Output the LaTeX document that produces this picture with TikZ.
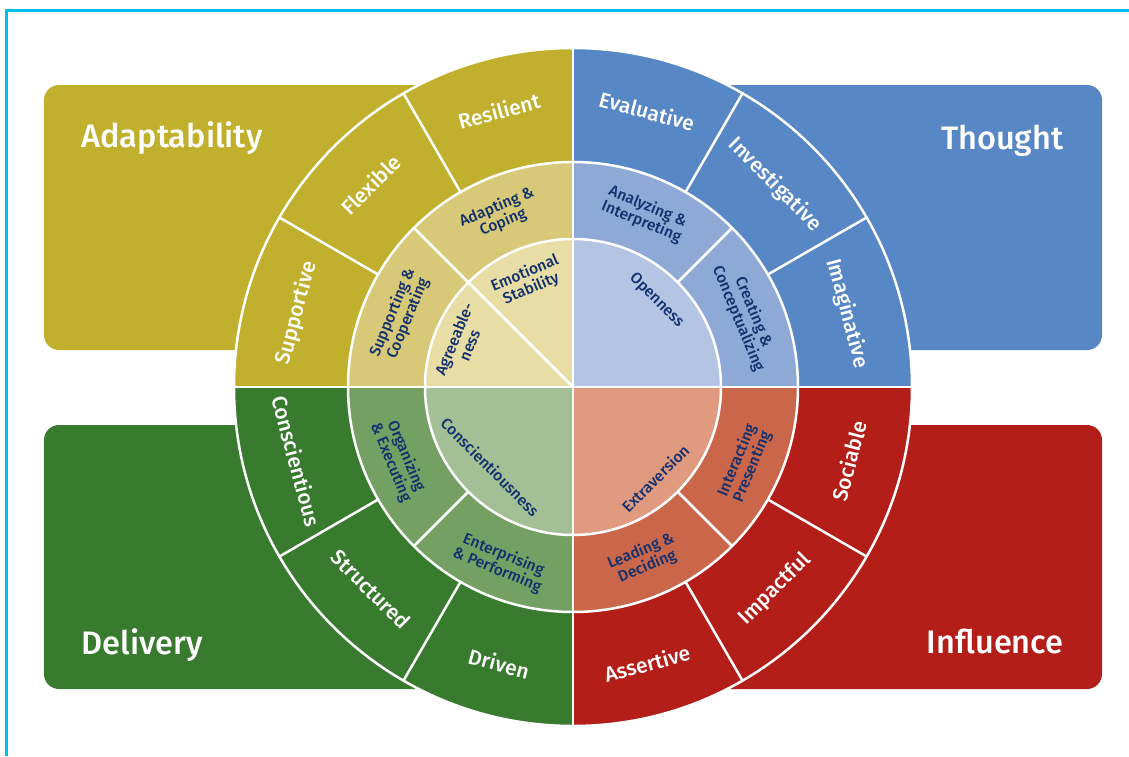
\documentclass[tikz,border=0pt]{standalone}
\usepackage{fontspec}
\setmainfont{Fira Sans}
\newfontfamily\labelfont{Fira Sans Medium}

% quadrant colours: outer ring, middle ring, core
\definecolor{adaptOut}{HTML}{C1B02D}
\definecolor{adaptMid}{HTML}{D7C977}
\definecolor{adaptIn}{HTML}{E8DEA5}
\definecolor{thoughtOut}{HTML}{5787C5}
\definecolor{thoughtMid}{HTML}{8EA9D6}
\definecolor{thoughtIn}{HTML}{B4C4E3}
\definecolor{deliveryOut}{HTML}{387B2E}
\definecolor{deliveryMid}{HTML}{75A064}
\definecolor{deliveryIn}{HTML}{A3BF95}
\definecolor{influenceOut}{HTML}{B41E18}
\definecolor{influenceMid}{HTML}{CA674B}
\definecolor{influenceIn}{HTML}{DF9A80}
\definecolor{navy}{HTML}{12306E}
\definecolor{frameline}{HTML}{00C0EC}

\tikzset{
  outerlbl/.style={text=white, font=\labelfont\fontsize{21}{23}\selectfont},
  ringlbl/.style={text=navy, align=center, font=\labelfont\fontsize{15.5}{16.5}\selectfont},
  title/.style={text=white, font=\labelfont\fontsize{32.5}{35}\selectfont},
  sep/.style={white, line width=2.5pt},
}

\begin{document}
\begin{tikzpicture}[x=1pt, y=1pt]
  \useasboundingbox (-573,-369) rectangle (556,387);
  \fill[white] (-573,-369) rectangle (556,387);
  \draw[frameline, line width=3pt] (-566,-369) -- (-566,376) -- (556,376);

  % the four background boxes
  \fill[adaptOut, rounded corners=15pt] (-529,37) rectangle (0,302);
  \fill[thoughtOut, rounded corners=15pt] (0,37) rectangle (529,302);
  \fill[deliveryOut, rounded corners=15pt] (-529,-302) rectangle (0,-38);
  \fill[influenceOut, rounded corners=15pt] (0,-302) rectangle (529,-38);

  \node[title, anchor=base west] (adaptability) at (-495,240) {Adaptability};
  \node[title, anchor=base east] (thought) at (494,238) {Thought};
  \node[title, anchor=base west] (delivery) at (-495,-267) {Delivery};
  \node[title, anchor=base east] (influence) at (494,-266) {Influence};

  % wheel: outer ring
  \fill[adaptOut] (0,0) -- (90:339) arc[start angle=90, end angle=180, radius=339] -- cycle;
  \fill[thoughtOut] (0,0) -- (0:339) arc[start angle=0, end angle=90, radius=339] -- cycle;
  \fill[deliveryOut] (0,0) -- (180:339) arc[start angle=180, end angle=270, radius=339] -- cycle;
  \fill[influenceOut] (0,0) -- (270:339) arc[start angle=270, end angle=360, radius=339] -- cycle;
  % middle ring
  \fill[adaptMid] (0,0) -- (90:225) arc[start angle=90, end angle=180, radius=225] -- cycle;
  \fill[thoughtMid] (0,0) -- (0:225) arc[start angle=0, end angle=90, radius=225] -- cycle;
  \fill[deliveryMid] (0,0) -- (180:225) arc[start angle=180, end angle=270, radius=225] -- cycle;
  \fill[influenceMid] (0,0) -- (270:225) arc[start angle=270, end angle=360, radius=225] -- cycle;
  % core
  \fill[adaptIn] (0,0) -- (90:148) arc[start angle=90, end angle=180, radius=148] -- cycle;
  \fill[thoughtIn] (0,0) -- (0:148) arc[start angle=0, end angle=90, radius=148] -- cycle;
  \fill[deliveryIn] (0,0) -- (180:148) arc[start angle=180, end angle=270, radius=148] -- cycle;
  \fill[influenceIn] (0,0) -- (270:148) arc[start angle=270, end angle=360, radius=148] -- cycle;

  % white separators
  \draw[sep] (0,0) circle[radius=339];
  \draw[sep] (0,0) circle[radius=225];
  \draw[sep] (0,0) circle[radius=148];
  \draw[sep] (-339,0) -- (339,0);
  \draw[sep] (0,-339) -- (0,339);
  \draw[sep] (0,0) -- (135:225);
  \foreach \a in {45,225,315}
    \draw[sep] (\a:148) -- (\a:225);
  \foreach \a in {30,60,120,150,210,240,300,330}
    \draw[sep] (\a:225) -- (\a:339);

  % outer ring labels
  \node[outerlbl, rotate=15] (resilient) at (105:286) {Resilient};
  \node[outerlbl, rotate=45] (flexible) at (135:286) {Flexible};
  \node[outerlbl, rotate=75] (supportive) at (165:286) {Supportive};
  \node[outerlbl, rotate=-15] (evaluative) at (75:286) {Evaluative};
  \node[outerlbl, rotate=-45] (investigative) at (45:286) {Investigative};
  \node[outerlbl, rotate=-75] (imaginative) at (15:284) {Imaginative};
  \node[outerlbl, rotate=-75] (conscientious) at (195:286) {Conscientious};
  \node[outerlbl, rotate=-45] (structured) at (225:286) {Structured};
  \node[outerlbl, rotate=-15] (driven) at (255:286) {Driven};
  \node[outerlbl, rotate=15] (assertive) at (285:286) {Assertive};
  \node[outerlbl, rotate=45] (impactful) at (315:286) {Impactful};
  \node[outerlbl, rotate=75] (sociable) at (345:286) {Sociable};

  % middle ring labels
  \node[ringlbl, rotate=22.5] (adapting) at (113:187) {Adapting \&\\Coping};
  \node[ringlbl, rotate=67.5] (supporting) at (157.5:187) {Supporting \&\\Cooperating};
  \node[ringlbl, rotate=-22.5] (analyzing) at (67.5:187) {Analyzing \&\\Interpreting};
  \node[ringlbl, rotate=-67.5] (creating) at (22.5:187) {Creating \&\\Conceptualizing};
  \node[ringlbl, rotate=-67.5] (organizing) at (202.5:189) {Organizing\\\& Executing};
  \node[ringlbl, rotate=-22.5] (enterprising) at (247.5:190) {Enterprising\\\& Performing};
  \node[ringlbl, rotate=22.5] (leading) at (292.5:186) {Leading \&\\Deciding};
  \node[ringlbl, rotate=67.5] (interacting) at (336:188) {Interacting\\Presenting};

  % core labels
  \node[ringlbl, rotate=22.5] (emotional) at (113:115) {Emotional\\Stability};
  \node[ringlbl, rotate=67.5] (agreeable) at (158:120) {Agreeable-\\ness};
  \node[ringlbl, rotate=-45] (openness) at (46:120) {Openness};
  \node[ringlbl, rotate=-45] (conscientiousness) at (224:115) {Conscientiousness};
  \node[ringlbl, rotate=45] (extraversion) at (312:123) {Extraversion};
\end{tikzpicture}
\end{document}
